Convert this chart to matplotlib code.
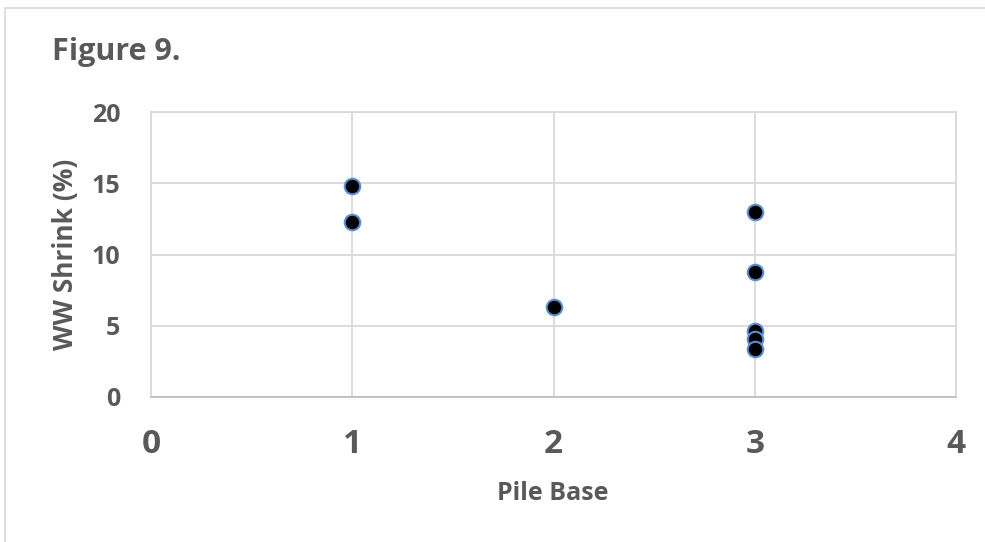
import matplotlib.pyplot as plt
from matplotlib.patches import Rectangle

# data
pile_base = [1, 1, 2, 3, 3, 3, 3, 3]
ww_shrink = [14.8, 12.3, 6.3, 13.0, 8.8, 4.6, 4.1, 3.4]
x_ticks = [0, 1, 2, 3, 4]
y_ticks = [0, 5, 10, 15, 20]

plt.rcParams['font.family'] = ['Open Sans', 'DejaVu Sans']
text_color = '#595959'
grid_color = '#d9d9d9'

W, H = 985, 542
fig = plt.figure(figsize=(W / 100, H / 100), dpi=100)
ax = fig.add_axes([151 / W, 1 - 397 / H, (956 - 151) / W, (397 - 112) / H])

ax.scatter(pile_base, ww_shrink, s=125, facecolor='black', edgecolor='#5b8fd0',
           linewidth=1.5, zorder=3)

ax.set_xlim(0, 4)
ax.set_ylim(0, 20)
ax.set_xticks(x_ticks)
ax.set_yticks(y_ticks)
ax.grid(True, color=grid_color, linewidth=1.3)
ax.set_axisbelow(True)
for side in ['top', 'right', 'left']:
    ax.spines[side].set_color(grid_color)
    ax.spines[side].set_linewidth(1.3)
ax.spines['bottom'].set_color('#bfbfbf')
ax.spines['bottom'].set_linewidth(1.3)
ax.tick_params(length=0, colors=text_color)
for lbl in ax.get_xticklabels():
    lbl.set_fontsize(24)
    lbl.set_fontweight('bold')
for lbl in ax.get_yticklabels():
    lbl.set_fontsize(18)
    lbl.set_fontweight('bold')
ax.tick_params(axis='x', pad=22)
ax.tick_params(axis='y', pad=22)

# axis titles and chart title placed in pixel positions
fig.text(553 / W, 1 - 494 / H, 'Pile Base', fontsize=18, fontweight='bold',
         color=text_color, ha='center', va='center')
fig.text(65 / W, 1 - 254 / H, 'WW Shrink (%)', fontsize=19, fontweight='bold',
         color=text_color, ha='center', va='center', rotation=90)
fig.text(52 / W, 1 - 52 / H, 'Figure 9.', fontsize=22, fontweight='bold',
         color=text_color, va='center', ha='left')

# chart frame (partly cut off in the reference)
fig.patches.append(Rectangle((5 / W, -0.1), 1.1, 1 - 8 / H + 0.1,
                             transform=fig.transFigure, fill=False,
                             edgecolor='#d9d9d9', linewidth=1.2))

fig.savefig('out.png', dpi=100)
